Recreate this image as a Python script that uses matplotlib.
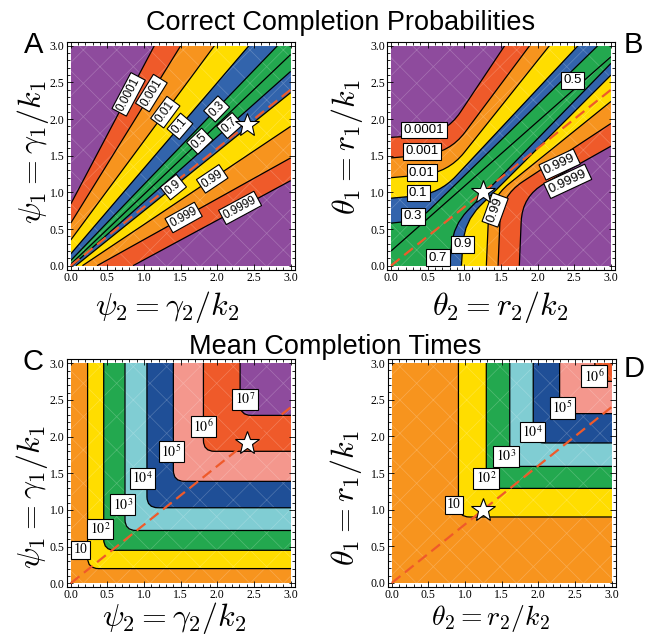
import numpy as np
import matplotlib
matplotlib.use('Agg')
import matplotlib.pyplot as plt
from matplotlib.path import Path
from matplotlib.patches import PathPatch, Rectangle
from matplotlib.ticker import MultipleLocator, FormatStrFormatter

plt.rcParams['font.family'] = ['Liberation Sans', 'DejaVu Sans']
plt.rcParams['hatch.linewidth'] = 0.5

# colours (Mathematica-like palette)
purple = '#8E4B9D'
red = '#EF5A2A'
orange = '#F7941E'
yellow = '#FFDD00'
blue = '#3264AC'
green = '#23A84F'
cyan = '#80CDD3'
navy = '#1F4F97'
salmon = '#F4978D'

# ---------------- data ----------------
# A: correct completion probability, contours are straight lines (start, end)
a_levels = ['0.0001', '0.001', '0.01', '0.1', '0.3', '0.5', '0.7', '0.9', '0.99', '0.999', '0.9999']
a_curves = [[(0, 0.84), (1.14, 3)], [(0, 0.58), (1.50, 3)], [(0, 0.35), (1.96, 3)],
            [(0, 0.16), (2.43, 3)], [(0, 0.07), (2.82, 3)], [(0, 0.02), (3, 2.88)],
            [(0.02, 0), (3, 2.65)], [(0.07, 0), (3, 2.36)], [(0.16, 0), (3, 1.90)],
            [(0.36, 0), (3, 1.47)], [(0.85, 0), (3, 1.16)]]
a_label_x = [0.79, 1.10, 1.29, 1.49, 1.99, 1.76, 2.17, 1.40, 1.93, 1.54, 2.31]

# B: same levels, curves given as start / bend / end
b_curves = [[(0, 1.75), (0.75, 1.80), (1.55, 3)],
            [(0, 1.47), (0.80, 1.54), (1.89, 3)],
            [(0, 1.20), (0.78, 1.27), (2.16, 3)],
            [(0, 0.92), (0.66, 0.98), (2.55, 3)],
            [(0, 0.58), (0.38, 0.62), (2.82, 3)],
            [(0, 0.20), (3, 2.85)],
            [(0.80, 0), (0.85, 0.55), (3, 2.76)],
            [(0.96, 0), (1.00, 0.60), (3, 2.60)],
            [(1.30, 0), (1.34, 0.90), (3, 2.24)],
            [(1.46, 0), (1.50, 0.95), (3, 1.94)],
            [(1.75, 0), (1.79, 0.95), (3, 1.63)]]
b_label_xy = [(0.45, 1.85), (0.42, 1.56), (0.42, 1.27), (0.37, 0.99), (0.30, 0.675), (2.48, 2.53),
              (0.64, 0.11), (0.98, 0.29), (1.42, 0.76), (2.30, 1.38), (2.41, 1.15)]
b_label_rot = [0, 0, 0, 0, 0, 0, 0, 0, 70, 25, 25]
prob_colors = [purple, red, orange, yellow, blue, green, green, blue, yellow, orange, red, purple]

# C / D: mean completion time, L-shaped contours (vertical x, horizontal y)
time_levels = ['10', r'$10^{2}$', r'$10^{3}$', r'$10^{4}$', r'$10^{5}$', r'$10^{6}$', r'$10^{7}$']
c_vert = [0.23, 0.45, 0.74, 1.04, 1.40, 1.81, 2.31]
c_horiz = [0.20, 0.45, 0.72, 1.03, 1.39, 1.80, 2.29]
c_label_xy = [(0.13, 0.46), (0.40, 0.74), (0.71, 1.07), (0.98, 1.43), (1.37, 1.80), (1.81, 2.14), (2.38, 2.51)]
d_vert = [0.91, 1.29, 1.61, 1.93, 2.29, 2.77]
d_horiz = [0.90, 1.29, 1.59, 1.91, 2.31, 2.75]
d_label_xy = [(0.85, 1.07), (1.29, 1.43), (1.56, 1.73), (1.92, 2.06), (2.33, 2.39), (2.76, 2.82)]
time_colors = [orange, yellow, green, cyan, navy, salmon, red, purple]

# dashed reference line and the marked point
diag_x = [0, 3]
diag_y = [0, 2.4]
star_psi = (2.4, 1.92)
star_theta = (1.25, 1.0)


def rounded_path(pts, r):
    pts = [np.array(p, float) for p in pts]
    verts = [pts[0]]
    codes = [Path.MOVETO]
    for i in range(1, len(pts) - 1):
        p0, p1, p2 = pts[i - 1], pts[i], pts[i + 1]
        d1 = p1 - p0
        d2 = p2 - p1
        l1 = np.hypot(*d1)
        l2 = np.hypot(*d2)
        rr = min(r, 0.5 * l1, 0.5 * l2)
        verts += [p1 - d1 / l1 * rr, p1, p1 + d2 / l2 * rr]
        codes += [Path.LINETO, Path.CURVE3, Path.CURVE3]
    verts.append(pts[-1])
    codes.append(Path.LINETO)
    return verts, codes


def draw_contours(ax, curves, colors, side, r):
    clip = Rectangle((0, 0), 3, 3, transform=ax.transData)
    bg = Rectangle((0, 0), 3, 3, fc=colors[0], ec='none', zorder=1)
    ax.add_patch(bg)
    if side == 'low':
        extra = [(5, 5), (5, -5), (-5, -5)]
    else:
        extra = [(5, 5)]
    for curve, col in zip(curves, colors[1:]):
        v, c = rounded_path(curve, r)
        fp = Path(v + extra + [v[0]], c + [Path.LINETO] * len(extra) + [Path.CLOSEPOLY])
        p = PathPatch(fp, fc=col, ec=col, lw=0.3, zorder=1)
        ax.add_patch(p)
        p.set_clip_path(clip)
    # faint white mesh like the original rendering
    ax.add_patch(Rectangle((0, 0), 3, 3, fill=False, hatch='x', ec=(1, 1, 1, 0.22), lw=0, zorder=1.5))
    for curve in curves:
        v, c = rounded_path(curve, r)
        ln = PathPatch(Path(v, c), fill=False, ec='black', lw=0.9, zorder=2)
        ax.add_patch(ln)
        ln.set_clip_path(clip)


def setup_axes(ax):
    ax.set_xlim(-0.055, 3.055)
    ax.set_ylim(-0.055, 3.055)
    ax.set_facecolor('white')
    for s in ax.spines.values():
        s.set_linewidth(0.8)
    ax.xaxis.set_major_locator(MultipleLocator(0.5))
    ax.yaxis.set_major_locator(MultipleLocator(0.5))
    ax.xaxis.set_minor_locator(MultipleLocator(0.1))
    ax.yaxis.set_minor_locator(MultipleLocator(0.1))
    ax.xaxis.set_major_formatter(FormatStrFormatter('%.1f'))
    ax.yaxis.set_major_formatter(FormatStrFormatter('%.1f'))
    ax.tick_params(which='both', direction='in', top=True, right=True, width=0.6)
    ax.tick_params(which='major', length=4, pad=1.5, labelsize=8.5)
    ax.tick_params(which='minor', length=2)
    for t in ax.get_xticklabels() + ax.get_yticklabels():
        t.set_fontfamily('Liberation Serif')


def ref_marks(ax, star):
    ax.plot(diag_x, diag_y, ls=(0, (5, 2.6)), color=red, lw=1.6, zorder=3)
    ax.plot(star[0], star[1], marker='*', ms=18, mfc='white', mec='black', mew=0.8, zorder=7)


fig = plt.figure(figsize=(6.47, 6.35), dpi=100)
W, H = 647.0, 635.0


def px_axes(left, top, size=228):
    return fig.add_axes([left / W, 1 - (top + size) / H, size / W, size / H])


axA = px_axes(66.7, 41.7)
axB = px_axes(387.0, 41.7)
axC = px_axes(66.7, 359.3)
axD = px_axes(387.7, 359.0)
for ax in (axA, axB, axC, axD):
    setup_axes(ax)

box = dict(boxstyle='square,pad=0.18', fc='white', ec='black', lw=0.8)

# panel A
draw_contours(axA, a_curves, prob_colors, 'low', 0.3)
ref_marks(axA, star_psi)
for lev, curve, lx in zip(a_levels, a_curves, a_label_x):
    (x0, y0), (x1, y1) = curve
    ly = y0 + (lx - x0) * (y1 - y0) / (x1 - x0)
    ang = np.degrees(np.arctan2(y1 - y0, x1 - x0))
    axA.text(lx, ly, lev, rotation=ang, rotation_mode='anchor', ha='center', va='center',
             fontsize=8.5, bbox=box, zorder=5)

# panel B
draw_contours(axB, b_curves, prob_colors, 'low', 0.35)
ref_marks(axB, star_theta)
for lev, (lx, ly), rot in zip(a_levels, b_label_xy, b_label_rot):
    axB.text(lx, ly, lev, rotation=rot, rotation_mode='anchor', ha='center', va='center',
             fontsize=9.5, bbox=box, zorder=5)

# panel C
c_curves = [[(a, 5), (a, b), (5, b)] for a, b in zip(c_vert, c_horiz)]
draw_contours(axC, c_curves, time_colors, 'high', 0.15)
ref_marks(axC, star_psi)
for lev, (lx, ly) in zip(time_levels, c_label_xy):
    axC.text(lx, ly, lev, ha='center', va='center', fontsize=10, fontfamily='Liberation Serif',
             math_fontfamily='stix', bbox=box, zorder=5)

# panel D
d_curves = [[(a, 5), (a, b), (5, b)] for a, b in zip(d_vert, d_horiz)]
draw_contours(axD, d_curves, time_colors, 'high', 0.15)
ref_marks(axD, star_theta)
for lev, (lx, ly) in zip(time_levels, d_label_xy):
    axD.text(lx, ly, lev, ha='center', va='center', fontsize=10, fontfamily='Liberation Serif',
             math_fontfamily='stix', bbox=box, zorder=5)


def ftext(x, y, s, **kw):
    fig.text(x / W, 1 - y / H, s, **kw)


lab = dict(fontsize=23, math_fontfamily='cm')
ftext(167, 315, r'$\psi_2 = \gamma_2/k_2$', ha='center', va='baseline', **lab)
ftext(500, 315, r'$\theta_2 = r_2/k_2$', ha='center', va='baseline', **lab)
ftext(174, 626, r'$\psi_2 = \gamma_2/k_2$', ha='center', va='baseline', **lab)
ftext(490, 625, r'$\theta_2 = r_2/k_2$', ha='center', va='baseline', fontsize=20, math_fontfamily='cm')
ftext(33, 152, r'$\psi_1 = \gamma_1/k_1$', ha='center', va='center', rotation=90, **lab)
ftext(347, 147, r'$\theta_1 = r_1/k_1$', ha='center', va='center', rotation=90, **lab)
ftext(32, 497, r'$\psi_1 = \gamma_1/k_1$', ha='center', va='center', rotation=90, **lab)
ftext(346, 498, r'$\theta_1 = r_1/k_1$', ha='center', va='center', rotation=90, **lab)

ftext(341, 30, 'Correct Completion Probabilities', ha='center', va='baseline', fontsize=19.5)
ftext(335, 354, 'Mean Completion Times', ha='center', va='baseline', fontsize=19.5)

ftext(24, 53, 'A', ha='left', va='baseline', fontsize=21)
ftext(624, 53, 'B', ha='left', va='baseline', fontsize=21)
ftext(22, 370, 'C', ha='left', va='baseline', fontsize=21)
ftext(624, 377, 'D', ha='left', va='baseline', fontsize=21)

fig.savefig('out.png', dpi=100)
